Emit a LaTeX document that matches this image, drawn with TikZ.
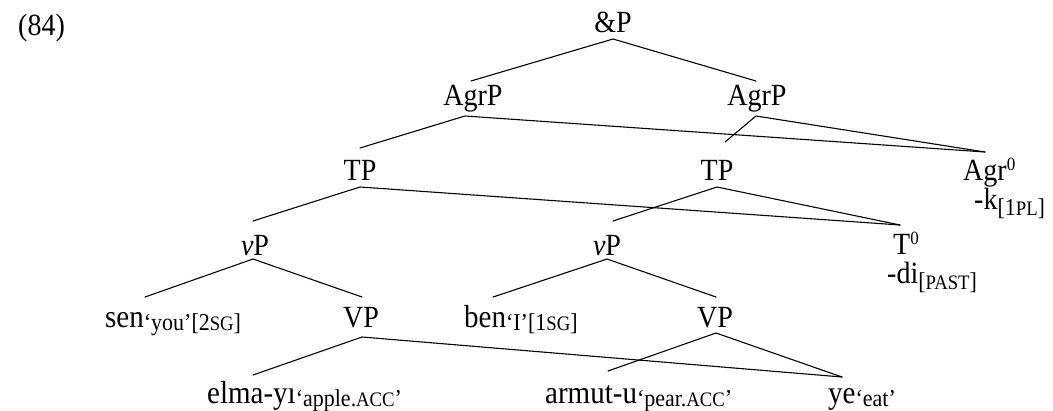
\documentclass[tikz,border=0pt]{standalone}
\usepackage{fontspec}
\setmainfont{Liberation Serif}
\usepackage{graphicx}
\newcommand{\tx}[1]{\scalebox{1}[1.1]{#1}}
\newcommand{\gl}[1]{\raisebox{-3pt}{\fontsize{22}{24}\selectfont #1}}
\newcommand{\glo}[1]{\raisebox{-6pt}{\fontsize{22}{24}\selectfont #1}}
\newcommand{\scx}[1]{{\fontsize{18.7}{20}\selectfont #1}}
\newcommand{\supz}{\raisebox{9pt}{\fontsize{17}{18}\selectfont 0}}
\tikzset{
  lab/.style={inner sep=0pt, anchor=base, font=\fontsize{28}{30}\selectfont},
  labw/.style={inner sep=0pt, anchor=base west, font=\fontsize{28}{30}\selectfont},
  head/.style={inner sep=0pt, anchor=base west, align=left, font=\fontsize{28}{30}\selectfont},
  word/.style={inner sep=0pt, anchor=base west, font=\fontsize{29}{31}\selectfont},
  edge/.style={line width=1.1pt, line cap=round}
}
\begin{document}
\begin{tikzpicture}[x=1pt,y=-1pt]
\useasboundingbox (0,0) rectangle (1053,410);
\node[labw] (ex) at (18,35) {\tx{(84)}};
\node[lab] (andP) at (613,32) {\tx{\&P}};
\node[lab] (agrL) at (473,105) {\tx{AgrP}};
\node[lab] (agrR) at (757,105) {\tx{AgrP}};
\node[lab] (tpL) at (360,180) {\tx{TP}};
\node[lab] (tpR) at (717,180) {\tx{TP}};
% head + suffix: the base anchor is on the last line
\node[head] (agr0) at (963,209) {\tx{Agr\supz}\\[-1pt]\hspace*{11pt}\tx{-k\glo{[1\scx{PL}]}}};
\node[lab] (vpL) at (255,255) {\tx{\textit{v}P}};
\node[lab] (vpR) at (607,255) {\tx{\textit{v}P}};
\node[head] (t0) at (887,283) {\hspace*{6pt}\tx{T\supz}\\[-1pt]\tx{-di\glo{[\scx{PAST}]}}};
\node[word] (sen) at (105,327) {\tx{sen\gl{‘you’[2\scx{SG}]}}};
\node[lab] (VPL) at (361,327) {\tx{VP}};
\node[word] (ben) at (464,327) {\tx{ben\gl{‘I’[1\scx{SG}]}}};
\node[lab] (VPR) at (715,327) {\tx{VP}};
\node[word] (elma) at (207,403) {\tx{elma-yı\gl{‘apple.\scx{ACC}’}}};
\node[word] (armut) at (545,403) {\tx{armut-u\gl{‘pear.\scx{ACC}’}}};
\node[word] (ye) at (828,403) {\tx{ye\gl{‘eat’}}};
% attachment points of the branches
\coordinate (andP-b) at (613,39);
\coordinate (agrL-t) at (471,81);
\coordinate (agrR-t) at (756,81);
\coordinate (agrL-b) at (465,116);
\coordinate (agrR-b) at (756,116);
\coordinate (tpL-t) at (360,148);
\coordinate (tpR-t) at (725,142);
\coordinate (agr0-t) at (985,152);
\coordinate (tpL-b) at (360,187);
\coordinate (tpR-b) at (717,187);
\coordinate (vpL-t) at (253,221);
\coordinate (vpR-t) at (613,221);
\coordinate (t0-t) at (900,225);
\coordinate (vpL-b) at (253,259);
\coordinate (vpR-b) at (607,259);
\coordinate (sen-t) at (145,297);
\coordinate (VPL-t) at (362,297);
\coordinate (ben-t) at (493,297);
\coordinate (VPR-t) at (716,297);
\coordinate (VPL-b) at (362,337);
\coordinate (VPR-b) at (716,333);
\coordinate (elma-t) at (253,375);
\coordinate (armut-t) at (608,371);
\coordinate (ye-t) at (842,377);
\draw[edge] (agrL-t) -- (andP-b) -- (agrR-t);
\draw[edge] (tpL-t) -- (agrL-b) -- (agr0-t);
\draw[edge] (tpR-t) -- (agrR-b) -- (agr0-t);
\draw[edge] (vpL-t) -- (tpL-b) -- (t0-t);
\draw[edge] (vpR-t) -- (tpR-b) -- (t0-t);
\draw[edge] (sen-t) -- (vpL-b) -- (VPL-t);
\draw[edge] (ben-t) -- (vpR-b) -- (VPR-t);
\draw[edge] (elma-t) -- (VPL-b) -- (ye-t);
\draw[edge] (armut-t) -- (VPR-b) -- (ye-t);
\end{tikzpicture}
\end{document}
